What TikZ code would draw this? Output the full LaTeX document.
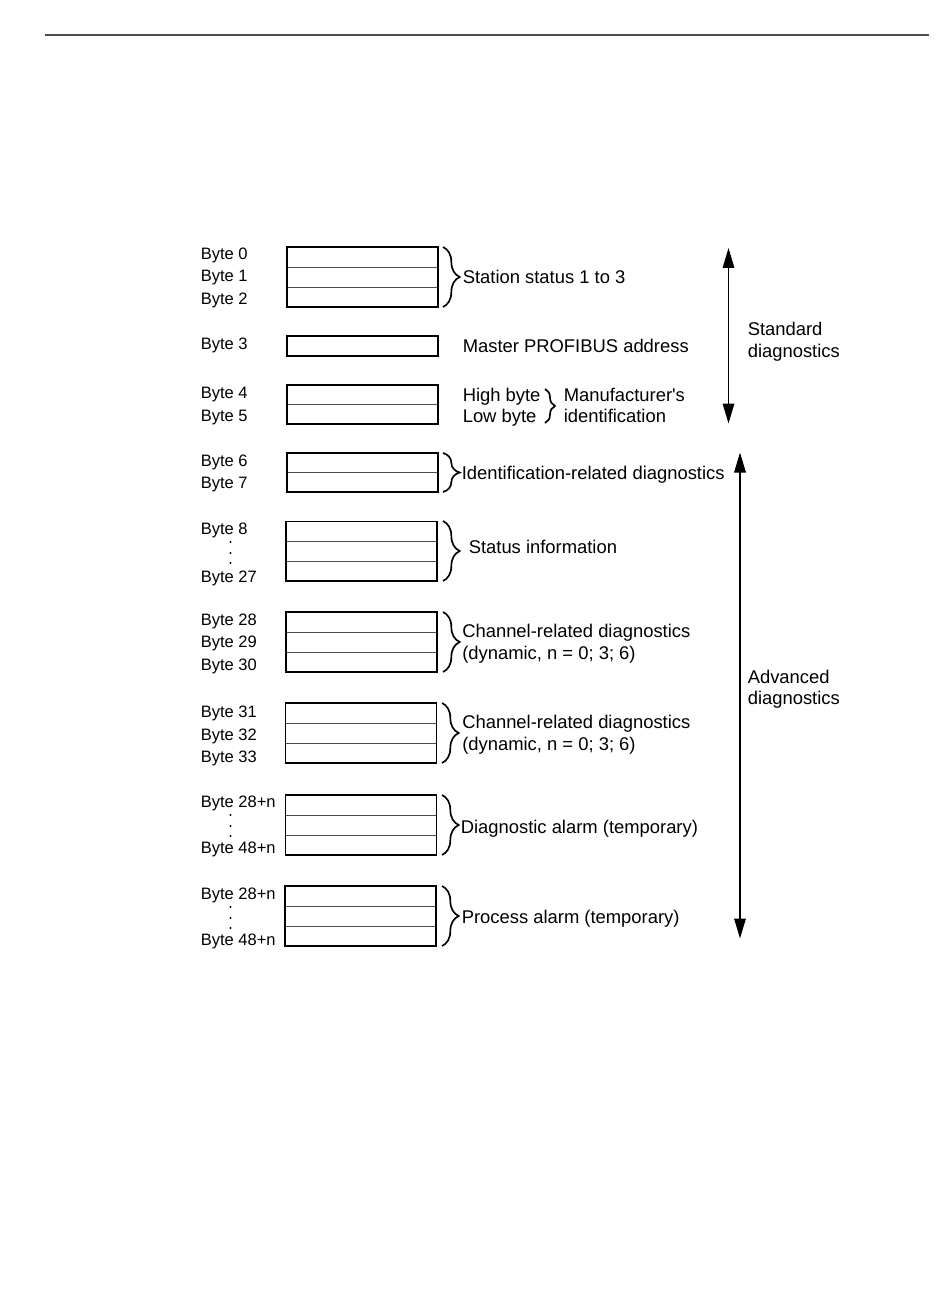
\documentclass[tikz,border=0pt]{standalone}
\usepackage{fontspec}
\setmainfont{Liberation Sans}
\usepackage{tikz}
\usetikzlibrary{arrows.meta}
\usetikzlibrary{decorations.pathreplacing}

\tikzset{
  bytelbl/.style={anchor=base west, inner sep=0pt, font=\fontsize{12.4}{14}\selectfont},
  desc/.style={anchor=base west, inner sep=0pt, font=\fontsize{13.8}{16}\selectfont},
  cellline/.style={line width=0.7pt, black!70},
  boxline/.style={line width=1.3pt},
  grpbrace/.style={decorate, decoration={brace, amplitude=12.5pt}, line width=1.25pt},
  smallbrace/.style={decorate, decoration={brace, amplitude=7.5pt}, line width=1.25pt},
  spanarrow/.style={line width=1pt, {Triangle[length=15pt,width=8.7pt]}-{Triangle[length=15pt,width=8.7pt]}},
  bytedot/.style={fill=black, draw=none},
}

\begin{document}
\begin{tikzpicture}[x=0.75pt, y=-0.75pt]
\useasboundingbox (0,0) rectangle (950,1301);

% page rule
\draw[line width=1.4pt, black!70] (45,34.7) -- (929,34.7);

% byte labels
\node[bytelbl] (b0) at (200.5,260) {Byte 0};
\node[bytelbl] (b1) at (200.5,282) {Byte 1};
\node[bytelbl] (b2) at (200.5,305) {Byte 2};
\node[bytelbl] (b3) at (200.5,350) {Byte 3};
\node[bytelbl] (b4) at (200.5,398) {Byte 4};
\node[bytelbl] (b5) at (200.5,421) {Byte 5};
\node[bytelbl] (b6) at (200.5,466) {Byte 6};
\node[bytelbl] (b7) at (200.5,488) {Byte 7};
\node[bytelbl] (b8) at (200.5,534) {Byte 8};
\node[bytelbl] (b27) at (200.5,582) {Byte 27};
\node[bytelbl] (b28) at (200.5,625) {Byte 28};
\node[bytelbl] (b29) at (200.5,647) {Byte 29};
\node[bytelbl] (b30) at (200.5,670) {Byte 30};
\node[bytelbl] (b31) at (200.5,717) {Byte 31};
\node[bytelbl] (b32) at (200.5,740) {Byte 32};
\node[bytelbl] (b33) at (200.5,762) {Byte 33};
\node[bytelbl] (dfirst) at (200.5,807) {Byte 28+n};
\node[bytelbl] (dlast) at (200.5,853) {Byte 48+n};
\node[bytelbl] (pfirst) at (200.5,899) {Byte 28+n};
\node[bytelbl] (plast) at (200.5,945) {Byte 48+n};

% vertical dots
\fill[bytedot] (230.5,542) circle (1.1);
\fill[bytedot] (230.5,553) circle (1.1);
\fill[bytedot] (230.5,563) circle (1.1);
\fill[bytedot] (230.5,815) circle (1.1);
\fill[bytedot] (230.5,826) circle (1.1);
\fill[bytedot] (230.5,836) circle (1.1);
\fill[bytedot] (230.5,907) circle (1.1);
\fill[bytedot] (230.5,918) circle (1.1);
\fill[bytedot] (230.5,928) circle (1.1);

% byte boxes
\draw[cellline] (287,267) -- (438,267);
\draw[cellline] (287,287) -- (438,287);
\draw[boxline] (287,247) rectangle (438,307);
\draw[boxline] (287,336) rectangle (438,356);
\draw[cellline] (287,404.5) -- (438,404.5);
\draw[boxline] (287,385) rectangle (438,424);
\draw[cellline] (287,472) -- (438,472);
\draw[boxline] (287,453) rectangle (438,492);
\draw[cellline] (286,541.5) -- (437,541.5);
\draw[cellline] (286,561) -- (437,561);
\draw[boxline] (286,521.5) rectangle (437,581);
\draw[cellline] (286,632) -- (437,632);
\draw[cellline] (286,652) -- (437,652);
\draw[boxline] (286,612) rectangle (437,672);
\draw[cellline] (285.5,723) -- (436.5,723);
\draw[cellline] (285.5,743) -- (436.5,743);
\draw[boxline] (285.5,703) rectangle (436.5,763);
\draw[cellline] (285.5,815) -- (436.5,815);
\draw[cellline] (285.5,835) -- (436.5,835);
\draw[boxline] (285.5,795) rectangle (436.5,855);
\draw[cellline] (285,906) -- (436,906);
\draw[cellline] (285,926) -- (436,926);
\draw[boxline] (285,886) rectangle (436,946);

% braces
\draw[grpbrace] (443,247) -- (443,307);
\draw[grpbrace] (443,453) -- (443,492);
\draw[grpbrace] (443,521) -- (443,581);
\draw[grpbrace] (443,612) -- (443,672);
\draw[grpbrace] (442,703) -- (442,763);
\draw[grpbrace] (442,795) -- (442,855);
\draw[grpbrace] (442,886) -- (442,946);
\draw[smallbrace] (545,389) -- (545,423);

% descriptions
\node[desc] (stat) at (462.5,284) {Station status 1 to 3};
\node[desc] (master) at (462.5,353) {Master PROFIBUS address};
\node[desc] (hibyte) at (462.5,402) {High byte};
\node[desc] (lobyte) at (462.5,422) {Low byte};
\node[desc] (manuf) at (563.5,402) {Manufacturer\textquotesingle s};
\node[desc] (ident) at (563.5,422) {identification};
\node[desc] (idrel) at (461.5,479.5) {Identification-related diagnostics};
\node[desc] (statinfo) at (468.5,553) {Status information};
\node[desc] (chan1) at (462,637) {Channel-related diagnostics};
\node[desc] (dyn1) at (462,659) {(dynamic, n = 0; 3; 6)};
\node[desc] (chan2) at (462,728) {Channel-related diagnostics};
\node[desc] (dyn2) at (462,750) {(dynamic, n = 0; 3; 6)};
\node[desc] (diagal) at (460.5,833) {Diagnostic alarm (temporary)};
\node[desc] (procal) at (461.5,923) {Process alarm (temporary)};
\node[desc] (std1) at (747.5,336) {Standard};
\node[desc] (std2) at (747.5,358) {diagnostics};
\node[desc] (adv1) at (747.5,683) {Advanced};
\node[desc] (adv2) at (747.5,704) {diagnostics};

% range arrows
\coordinate (stdtop) at (728.5,248);
\coordinate (stdbot) at (728.5,423.5);
\coordinate (advtop) at (740,452.5);
\coordinate (advbot) at (740,938.5);
\draw[spanarrow] (stdtop) -- (stdbot);
\draw[spanarrow] (advtop) -- (advbot);
\end{tikzpicture}
\end{document}
